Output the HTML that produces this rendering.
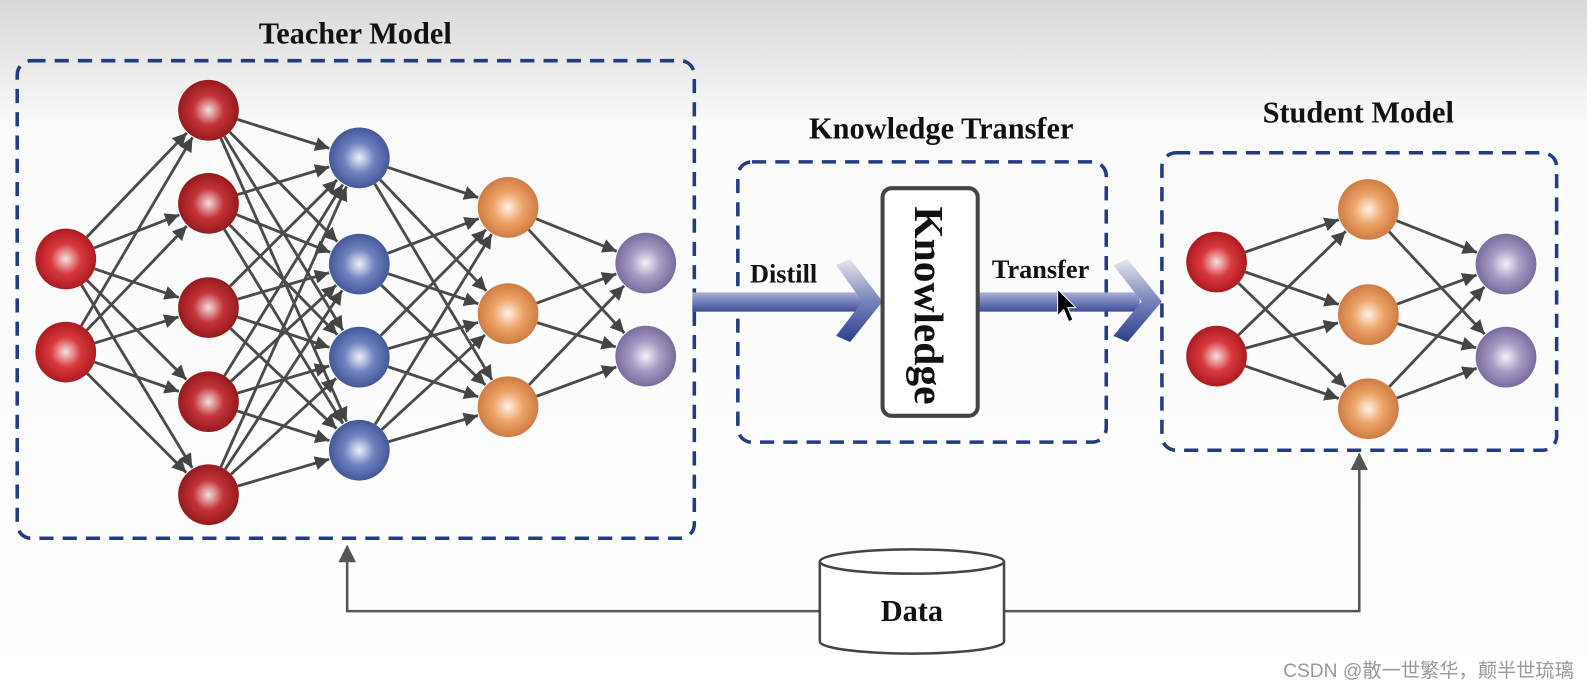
<!DOCTYPE html>
<html><head><meta charset="utf-8"><style>
html,body{margin:0;padding:0;width:1587px;height:688px;overflow:hidden;background:#fff}
svg{display:block}
text{font-family:"Liberation Serif",serif;font-weight:bold;fill:#111}
</style></head><body>
<svg id="s" width="1587" height="688" viewBox="0 0 1568 680" preserveAspectRatio="none" xmlns="http://www.w3.org/2000/svg">
<defs>
<linearGradient id="bg" x1="0" y1="0" x2="0" y2="1"><stop offset="0" stop-color="#d8d8d8"/><stop offset="0.18" stop-color="#fafafa"/><stop offset="1" stop-color="#fff"/></linearGradient>
<radialGradient id="r" cx="0.5" cy="0.5" r="0.55"><stop offset="0" stop-color="#f6e0e0"/><stop offset="0.45" stop-color="#d83a3e"/><stop offset="1" stop-color="#a5141a"/></radialGradient>
<radialGradient id="r2" cx="0.5" cy="0.5" r="0.55"><stop offset="0" stop-color="#f2dede"/><stop offset="0.45" stop-color="#c33438"/><stop offset="1" stop-color="#8e1418"/></radialGradient>
<radialGradient id="b" cx="0.5" cy="0.5" r="0.55"><stop offset="0" stop-color="#eef0f8"/><stop offset="0.45" stop-color="#6f83c0"/><stop offset="1" stop-color="#3c4f92"/></radialGradient>
<radialGradient id="o" cx="0.5" cy="0.5" r="0.55"><stop offset="0" stop-color="#fdf1e6"/><stop offset="0.45" stop-color="#eda469"/><stop offset="1" stop-color="#c9733a"/></radialGradient>
<radialGradient id="p" cx="0.5" cy="0.5" r="0.55"><stop offset="0" stop-color="#f4f1f8"/><stop offset="0.45" stop-color="#a89ac4"/><stop offset="1" stop-color="#6f6496"/></radialGradient>
<linearGradient id="sh" x1="0" y1="0" x2="0" y2="1"><stop offset="0" stop-color="#aab0d8"/><stop offset="1" stop-color="#3d4d96"/></linearGradient>
<linearGradient id="ch" x1="0" y1="0" x2="0" y2="1"><stop offset="0" stop-color="#e8e8ee"/><stop offset="0.5" stop-color="#7884bb"/><stop offset="1" stop-color="#2e3f8c"/></linearGradient>
<marker id="a" viewBox="0 0 10 10" refX="10" refY="5" markerWidth="5" markerHeight="5" orient="auto"><path d="M0,0L10,5L0,10z" fill="#444"/></marker>
<marker id="a2" viewBox="0 0 10 10" refX="9" refY="5" markerWidth="7" markerHeight="7" orient="auto"><path d="M0,0L10,5L0,10z" fill="#555"/></marker>
</defs>
<rect width="1568" height="680" fill="url(#bg)"/>
<g id="edges" stroke="#4a4a4a" stroke-width="2.8" fill="none"></g>
<g id="nodes"></g>
<g fill="none" stroke="#233a85" stroke-width="3.5" stroke-dasharray="14,9">
<rect x="17" y="60" width="669" height="472" rx="14"/>
<rect x="729" y="160" width="364" height="277" rx="14"/>
<rect x="1148" y="151" width="390" height="294" rx="14"/>
</g>
<text x="351" y="43" font-size="30" text-anchor="middle">Teacher Model</text>
<text x="930" y="137" font-size="30" text-anchor="middle">Knowledge Transfer</text>
<text x="1342" y="121" font-size="30" text-anchor="middle">Student Model</text>
<rect x="684" y="289" width="175" height="19" fill="url(#sh)"/>
<path d="M826,262 L840,256 L872,298 L840,338 L826,332 L852,298 Z" fill="url(#ch)"/>
<rect x="966" y="289" width="160" height="19" fill="url(#sh)"/>
<path d="M1100,262 L1114,256 L1148,298 L1114,338 L1100,332 L1128,298 Z" fill="url(#ch)"/>
<text x="741" y="279" font-size="26">Distill</text>
<text x="980" y="275" font-size="26">Transfer</text>
<path d="M1045,286 L1045,312 L1051,306 L1056,318 L1060,316 L1055,304 L1063,304 Z" fill="#000" stroke="#fff" stroke-width="1"/>
<rect x="872" y="186" width="94" height="225" rx="9" fill="#fff" stroke="#444" stroke-width="4"/>
<text font-size="41" transform="translate(904,204) rotate(90)">Knowledge</text>
<path d="M810,604 L343,604 L343,540" fill="none" stroke="#555" stroke-width="2.5" marker-end="url(#a2)"/>
<path d="M992,604 L1343,604 L1343,449" fill="none" stroke="#555" stroke-width="2.5" marker-end="url(#a2)"/>
<path d="M810,555 L810,634 A91,12 0 0 0 992,634 L992,555" fill="#fff" stroke="#444" stroke-width="2.5"/>
<ellipse cx="901" cy="555" rx="91" ry="12" fill="#fff" stroke="#444" stroke-width="2.5"/>
<text x="901" y="614" font-size="30" text-anchor="middle">Data</text>
<text x="1555" y="669" font-size="19" text-anchor="end" style="font-family:'Liberation Sans','Noto Sans CJK SC',sans-serif;font-weight:normal;fill:#999">CSDN @散一世繁华，颠半世琉璃</text>
</svg>
<script>
var NS="http://www.w3.org/2000/svg",R=30;
function layers(L){var e=document.getElementById("edges"),n=document.getElementById("nodes");
for(var i=0;i<L.length-1;i++){var A=L[i],B=L[i+1];A.ys.forEach(function(y1){B.ys.forEach(function(y2){
var dx=B.x-A.x,dy=y2-y1,d=Math.sqrt(dx*dx+dy*dy),ux=dx/d,uy=dy/d;
var l=document.createElementNS(NS,"line");l.setAttribute("x1",A.x+ux*R);l.setAttribute("y1",y1+uy*R);
l.setAttribute("x2",B.x-ux*(R+1));l.setAttribute("y2",y2-uy*(R+1));l.setAttribute("marker-end","url(#a)");e.appendChild(l);});});}
L.forEach(function(l){l.ys.forEach(function(y){var c=document.createElementNS(NS,"circle");c.setAttribute("cx",l.x);c.setAttribute("cy",y);c.setAttribute("r",R);c.setAttribute("fill","url(#"+l.c+")");n.appendChild(c);});});}
layers([{x:65,ys:[256,348],c:"r"},{x:206,ys:[109,201,304,397,489],c:"r2"},{x:355,ys:[156,261,353,445],c:"b"},{x:502,ys:[205,310,402],c:"o"},{x:638,ys:[260,352],c:"p"}]);
layers([{x:1202,ys:[259,352],c:"r"},{x:1352,ys:[207,311,404],c:"o"},{x:1488,ys:[261,353],c:"p"}]);
</script>
</body></html>
